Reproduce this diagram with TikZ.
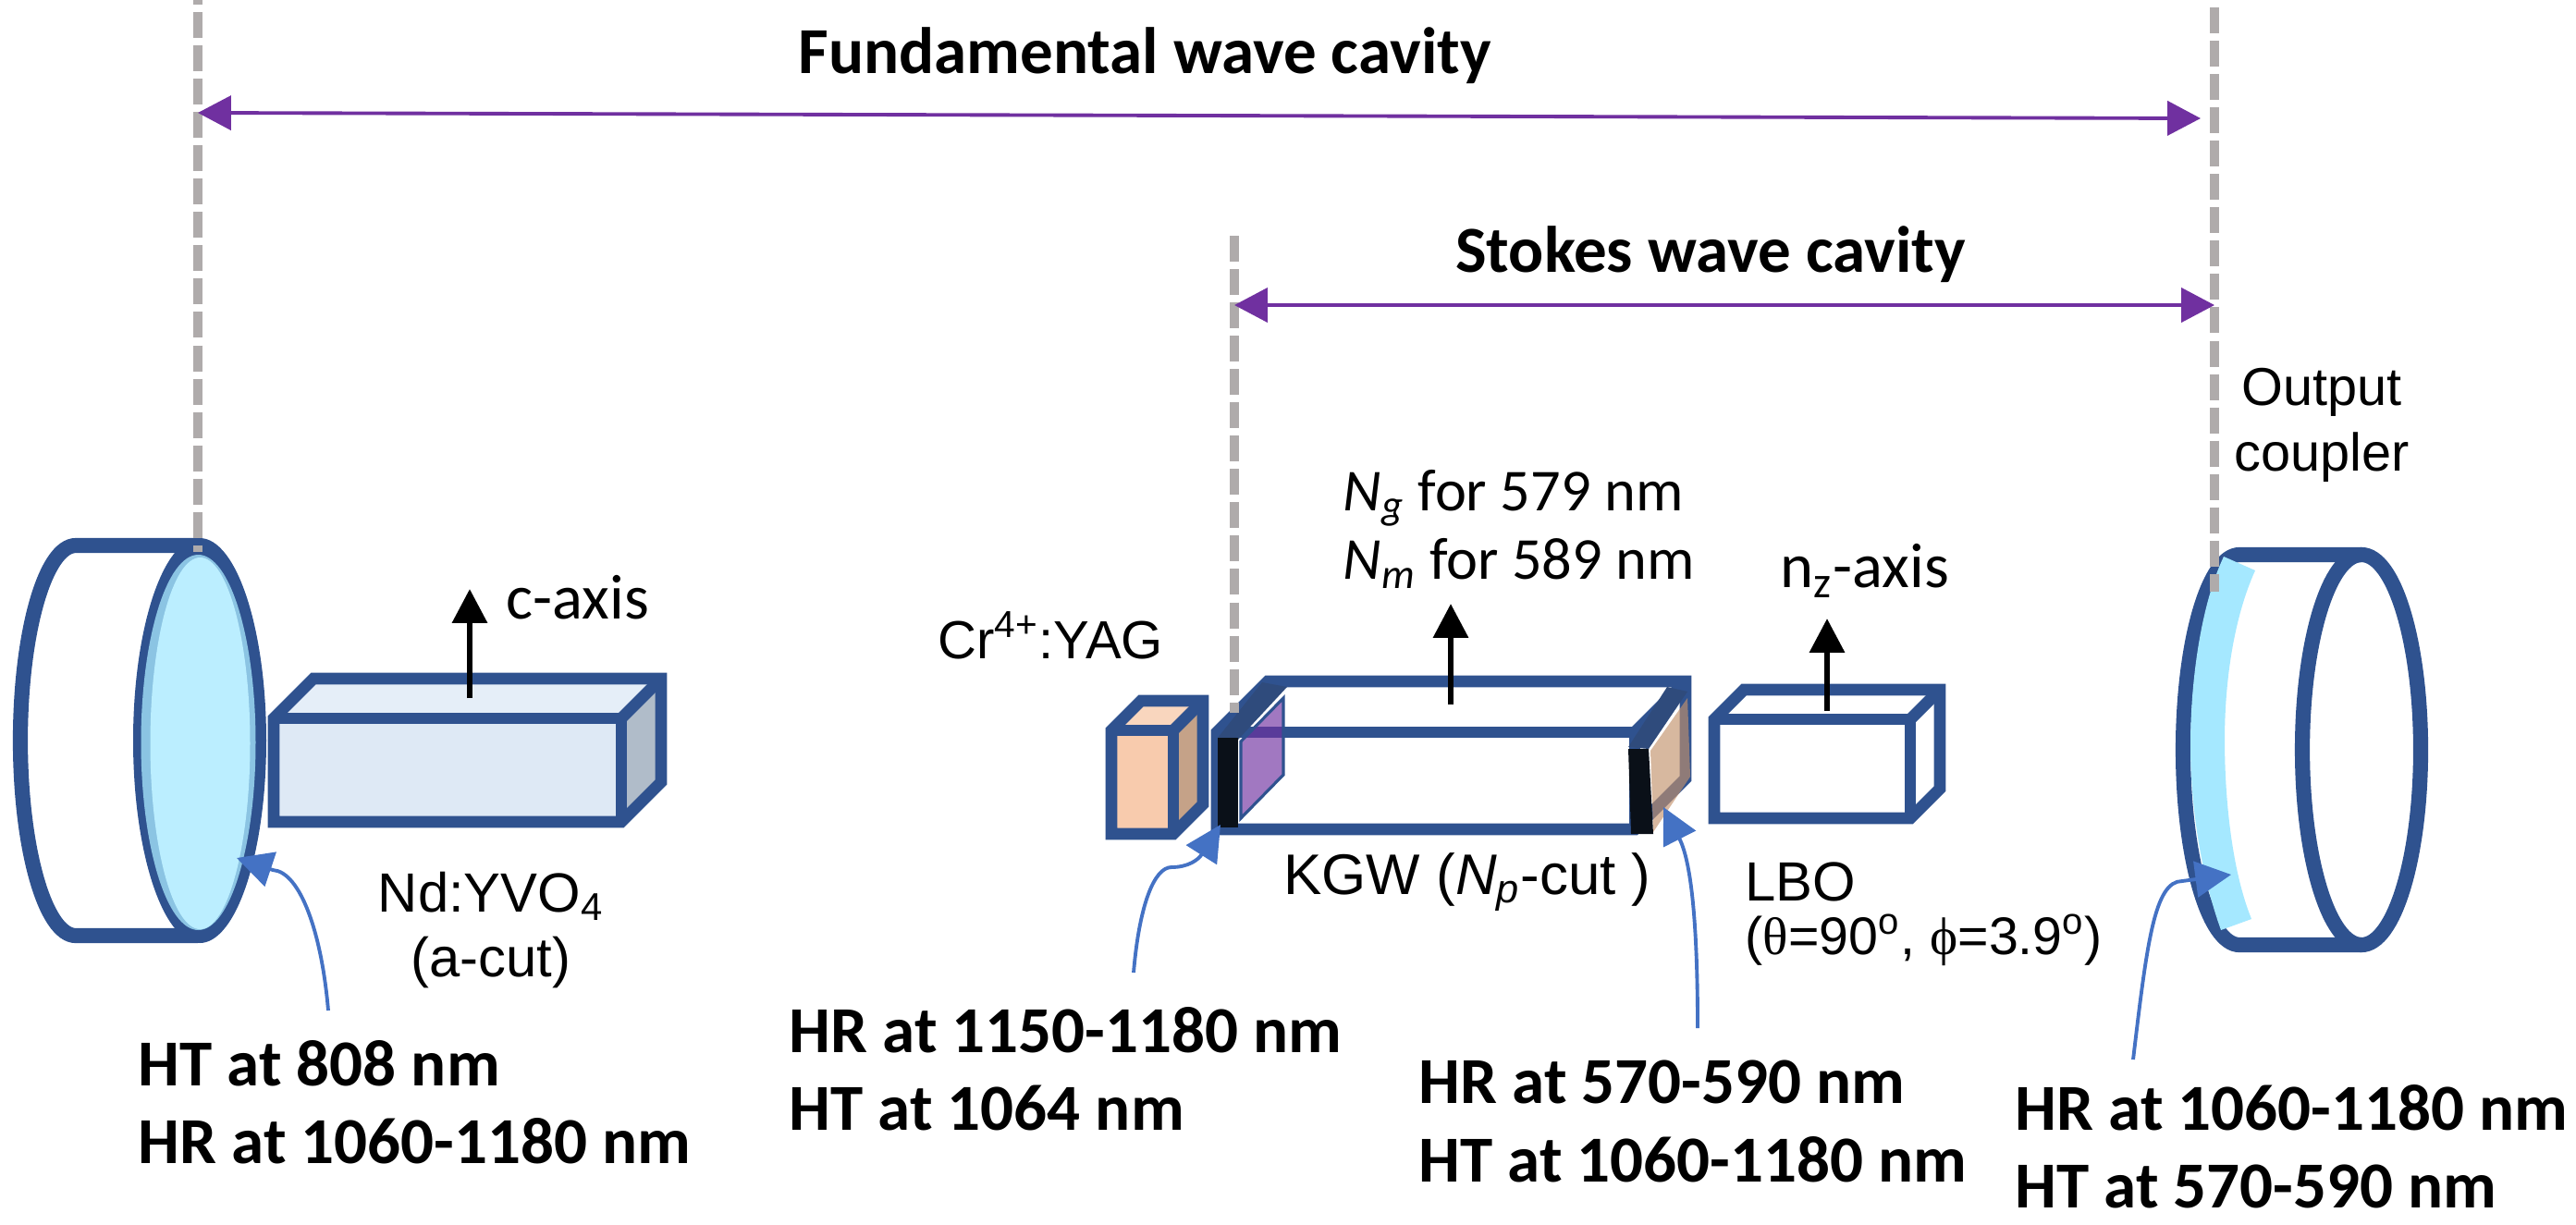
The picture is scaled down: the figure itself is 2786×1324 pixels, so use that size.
\documentclass[tikz,border=0pt]{standalone}
\usepackage{fontspec}
\setmainfont{Liberation Sans}
\newfontfamily\calfont{Carlito}
\newfontfamily\grkfont{Liberation Serif}
\usetikzlibrary{arrows.meta, calc}
\definecolor{FrameBlue}{HTML}{2F528F}
\definecolor{PointerBlue}{HTML}{4472C4}
\definecolor{CavityPurple}{HTML}{7030A0}
\definecolor{DashGray}{HTML}{AFABAB}
\definecolor{MirrorCyan}{HTML}{BBEEFF}
\definecolor{MirrorEdge}{HTML}{8BC4E3}
\definecolor{CoatCyan}{HTML}{A5E8FF}
\definecolor{SlabTop}{HTML}{2F4B7C}
\definecolor{SlabFront}{HTML}{0A1018}
\definecolor{SlabTan}{HTML}{C3926D}

\begin{document}
\begin{tikzpicture}[x=0.01cm, y=-0.01cm,
  frame_line/.style={draw=FrameBlue, line width=3.6pt, line join=miter},
  mirror_line/.style={draw=FrameBlue, line width=4.6pt},
  dash_line/.style={DashGray, line width=2.8pt, dash pattern=on 7.97pt off 2.28pt},
  cavity_arrow/.style={{Triangle[length=10.2pt, width=10.5pt]}-{Triangle[length=10.2pt, width=10.5pt]}, CavityPurple, line width=1.1pt},
  axis_arrow/.style={-{Triangle[length=10.5pt, width=10.5pt]}, black, line width=1.9pt},
  pointer/.style={-{Triangle[length=11pt, width=11pt]}, PointerBlue, line width=1.1pt},
  title_text/.style={font=\calfont\bfseries\fontsize{20.2}{24}\selectfont},
  coat_text/.style={font=\calfont\bfseries\fontsize{20.2}{24}\selectfont, anchor=west, align=left, inner sep=0pt},
  part_text/.style={font=\fontsize{17}{20}\selectfont, align=center, inner sep=0pt},
  axis_text/.style={font=\calfont\fontsize{19.5}{21.3}\selectfont, align=left, inner sep=0pt},
]
  \useasboundingbox (0,0) rectangle (2786,1324);
  % end points of the cavities
  \coordinate (fund_l) at (214,122);
  \coordinate (fund_r) at (2380,128);
  \coordinate (stokes_l) at (1335,330);
  \coordinate (stokes_r) at (2395,330);

  % left mirror
  \draw[mirror_line, fill=white] (214,590) -- (82,590) arc[start angle=-90, end angle=-270, x radius=60, y radius=211] -- (214,1012);
  \fill[FrameBlue] (216,801) ellipse[x radius=72, y radius=219];
  \fill[MirrorEdge] (214.5,803) ellipse[x radius=62, y radius=203];
  \fill[MirrorCyan] (216.5,804) ellipse[x radius=54, y radius=201];

  % crystals: front corners, depth, fill colours
  \foreach \xa/\ya/\xb/\yb/\dd/\cfront/\ctop/\cside in {
    296/777/672/889/43/DEE9F5/E5EEF8/B0BCC9,
    1202/790/1269/902/32/F8CBAD/F9D6BE/C5A288,
    1316/792/1768/897/55/FFFFFF/FFFFFF/FFFFFF,
    1854/778/2066/885/32/FFFFFF/FFFFFF/FFFFFF}{
    \definecolor{cf}{HTML}{\cfront}
    \definecolor{ct}{HTML}{\ctop}
    \definecolor{cs}{HTML}{\cside}
    \fill[ct] (\xa,\ya) -- ++(\dd,-\dd) -- ++(\xb-\xa,0) -- (\xb,\ya) -- cycle;
    \fill[cs] (\xb,\ya) -- ++(\dd,-\dd) -- ++(0,\yb-\ya) -- (\xb,\yb) -- cycle;
    \fill[cf] (\xa,\ya) rectangle (\xb,\yb);
    \draw[frame_line] (\xa,\ya) -- ++(\dd,-\dd) -- ++(\xb-\xa,0) -- ++(0,\yb-\ya) -- (\xb,\yb) -- (\xa,\yb) -- cycle;
    \draw[frame_line] (\xa,\ya) -- (\xb,\ya) -- (\xb,\yb);
    \draw[frame_line] (\xb,\ya) -- ++(\dd,-\dd);
  }

  % coated ends of KGW
  \fill[CavityPurple, opacity=0.65] (1342,802) -- (1388,755) -- (1388,838) -- (1342,885) -- cycle;
  \draw[FrameBlue, line width=0.9pt] (1342,802) -- (1388,755) -- (1388,838) -- (1342,885) -- cycle;
  \fill[SlabTop] (1317,798) -- (1339,800) -- (1392,743) -- (1365,738) -- cycle;
  \fill[SlabFront] (1317,798) rectangle (1339,895);
  \fill[SlabTan, opacity=0.65] (1785,812) -- (1825,755) -- (1828,840) -- (1788,900) -- cycle;
  \fill[SlabTop] (1761,808) -- (1783,810) -- (1825,748) -- (1803,743) -- cycle;
  \fill[SlabFront] (1761,810) -- (1783,810) -- (1788,902) -- (1764,902) -- cycle;

  % output coupler
  \draw[mirror_line, fill=white] (2554,600) -- (2422,600) arc[start angle=-90, end angle=-270, x radius=61, y radius=211] -- (2554,1022);
  \fill[CoatCyan] (2405,602) -- (2439,617) .. controls (2415,670) and (2406,740) .. (2406,800) .. controls (2406,870) and (2415,945) .. (2435,994) -- (2402,1006) .. controls (2380,945) and (2369,870) .. (2369,807) .. controls (2369,730) and (2382,650) .. (2405,602) -- cycle;
  \draw[mirror_line] (2554,811) ellipse[x radius=64, y radius=211];

  % cavity limits
  \foreach \dx/\ya/\yb in {214/-23/597, 1335/255/771, 2395/-28/640}
    \draw[dash_line] (\dx,\ya) -- (\dx,\yb);
  \draw[cavity_arrow] (fund_l) -- (fund_r);
  \draw[cavity_arrow] (stokes_l) -- (stokes_r);

  % axes
  \coordinate (axis_a) at (508,755);
  \coordinate (axis_b) at (1569,762);
  \coordinate (axis_c) at (1976,769);
  \draw[axis_arrow] (axis_a) -- ++(0,-118);
  \draw[axis_arrow] (axis_b) -- ++(0,-109);
  \draw[axis_arrow] (axis_c) -- ++(0,-100);

  % labels
  \node[title_text] (fund_lbl) at (1238,60) {Fundamental wave cavity};
  \node[title_text] (stokes_lbl) at (1850,275) {Stokes wave cavity};
  \node[part_text, font=\fontsize{16.4}{20.2}\selectfont] (oc_lbl) at (2511,460) {Output\\coupler};
  \node[axis_text, anchor=west, font=\calfont\fontsize{18.3}{21.3}\selectfont] (kgw_axis) at (1452,572) {\textit{N}\textsubscript{\textit{g}} for 579 nm\\\textit{N}\textsubscript{\textit{m}} for 589 nm};
  \node[axis_text] (c_lbl) at (625,646) {c-axis};
  \node[axis_text] (nz_lbl) at (2017,617) {n\textsubscript{z}-axis};
  \node[part_text, anchor=base, font=\fontsize{16.5}{20}\selectfont] (cr_lbl) at (1136,712) {Cr\textsuperscript{4+}:YAG};
  \node[part_text, font=\fontsize{17.6}{20}\selectfont] (kgw_lbl) at (1587,954) {KGW (\textit{N}\textsubscript{\textit{p}}-cut )};
  \node[part_text] (nd_lbl) at (531,1006) {Nd:YVO\textsubscript{4}\\(a-cut)};
  \node[part_text, anchor=west] (lbo_lbl) at (1887,954) {LBO};
  \node[part_text, anchor=west, font=\fontsize{16.3}{18}\selectfont] (lbo_cut) at (1887,1017) {({\grkfont θ}=90\textsuperscript{o}, {\grkfont ϕ}=3.9\textsuperscript{o})};
  \node[coat_text] (coat_a) at (149,1192) {HT at 808 nm\\HR at 1060-1180 nm};
  \node[coat_text] (coat_b) at (853,1156) {HR at 1150-1180 nm\\HT at 1064 nm};
  \node[coat_text] (coat_c) at (1534,1213) {HR at 570-590 nm\\HT at 1060-1180 nm};
  \node[coat_text] (coat_d) at (2179,1240) {HR at 1060-1180 nm\\HT at 570-590 nm};

  % pointers to the coatings
  \coordinate (from_a) at (355,1093);
  \coordinate (from_b) at (1226,1052);
  \coordinate (from_c) at (1836,1112);
  \coordinate (from_d) at (2307,1146);
  \draw[pointer] (from_a) .. controls (348,1010) and (325,943) .. (295,941) -- (256,928);
  \draw[pointer] (from_b) .. controls (1232,980) and (1248,938) .. (1267,938) .. controls (1285,938) and (1296,930) .. (1320,892);
  \draw[pointer] (from_c) .. controls (1836,990) and (1828,930) .. (1799,873);
  \draw[pointer] (from_d) .. controls (2322,1020) and (2330,953) .. (2360,953) -- (2413,946);
\end{tikzpicture}
\end{document}
